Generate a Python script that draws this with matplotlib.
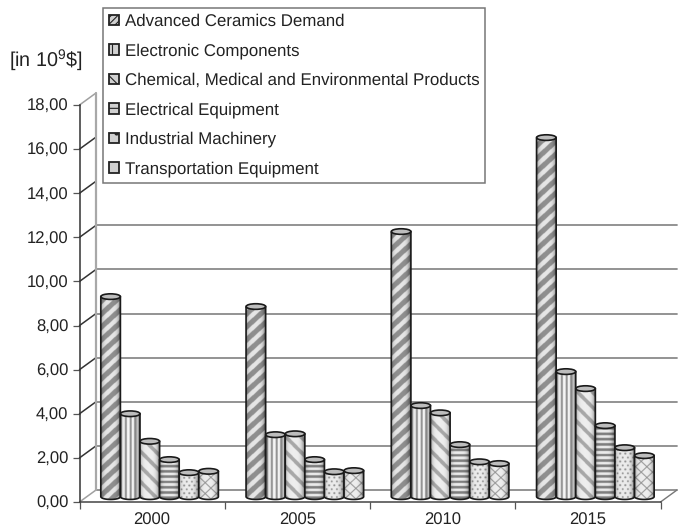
import numpy as np
import matplotlib
matplotlib.use("Agg")
import matplotlib.pyplot as plt
from matplotlib.patches import Patch, PathPatch, Ellipse
from matplotlib.path import Path

years = ["2000", "2005", "2010", "2015"]
series = [
    "Advanced Ceramics Demand",
    "Electronic Components",
    "Chemical, Medical and Environmental Products",
    "Electrical Equipment",
    "Industrial Machinery",
    "Transportation Equipment",
]
ceramics = [9.07, 8.62, 12.02, 16.28]
electronic = [3.76, 2.81, 4.13, 5.67]
chemical = [2.51, 2.85, 3.80, 4.90]
electrical = [1.68, 1.68, 2.36, 3.22]
machinery = [1.09, 1.13, 1.58, 2.22]
transport = [1.15, 1.18, 1.50, 1.86]
values = [ceramics, electronic, chemical, electrical, machinery, transport]
y_ticks = [0, 2, 4, 6, 8, 10, 12, 14, 16, 18]
y_labels = ["0,00", "2,00", "4,00", "6,00", "8,00", "10,00", "12,00", "14,00", "16,00", "18,00"]
grid_values = [0, 2, 4, 6, 8, 10, 12]
legend_hatches = ["/////", "||", "\\", "-", ".", "x"]

plt.rcParams["font.family"] = ["Liberation Sans", "DejaVu Sans"]
plt.rcParams["mathtext.default"] = "regular"
plt.rcParams["hatch.linewidth"] = 0.8
plt.rcParams["text.hinting"] = "none"
plt.rcParams["text.hinting_factor"] = 8

W, H = 685, 528
X0, X1, Y0, Y18 = 79.5, 660.5, 502.0, 105.0
fig = plt.figure(figsize=(W / 100, H / 100), dpi=100, facecolor="white")
ax = fig.add_axes([X0 / W, 1 - Y0 / H, (X1 - X0) / W, (Y0 - Y18) / H])
ax.set_xlim(0, 4)
ax.set_ylim(0, 18)

# pixel sizes expressed in axis units
ux = (X1 - X0) / 4
uy = (Y0 - Y18) / 18
depth_x = 16.5 / ux
depth_y = 12.0 / uy

for s in ("top", "right"):
    ax.spines[s].set_visible(False)
ax.spines["left"].set_color("#333333")
ax.spines["left"].set_linewidth(1.1)
ax.spines["bottom"].set_color("#444444")
ax.spines["bottom"].set_linewidth(1.1)
ax.set_yticks(y_ticks, y_labels, fontsize=12, color="#222222")
ax.set_xticks(range(5), [""] * 5)
ax.set_xticks([0.5, 1.5, 2.5, 3.5], years, minor=True, fontsize=12, color="#222222")
ax.tick_params(axis="both", which="major", length=5, width=0.9, color="#555555")
ax.tick_params(axis="y", pad=3)
ax.tick_params(axis="x", which="minor", length=0, pad=7.5)

# back wall, floor and depth lines
kw = dict(clip_on=False, zorder=1, solid_capstyle="round")
for v in grid_values:
    ax.plot([depth_x, 4 + depth_x], [v + depth_y] * 2, color="#8a8a8a", lw=1.3, **kw)
for v in y_ticks:
    col = "#a0a0a0" if v in (0, 18) else "#333333"
    ax.plot([0, depth_x], [v, v + depth_y], color=col, lw=1.1, **kw)
ax.plot([depth_x, depth_x], [depth_y, 18 + depth_y], color="#a8a8a8", lw=1.6, **kw)
ax.plot([4, 4 + depth_x], [0, depth_y], color="#777777", lw=1.0, **kw)


def texture(kind, xx, yy):
    """Grey level of one fill pattern at pixel offsets xx, yy."""
    if kind == 0:
        return np.where(((xx * 0.95 - yy) % 13) < 6.0, 0.90, 0.56)
    if kind == 1:
        return np.where((xx % 4.6) < 2.1, 0.58, 0.96)
    if kind == 2:
        return np.where(((xx + yy * 0.95) % 14.5) < 5.0, 0.66, 0.93)
    if kind == 3:
        return np.where((yy % 5.4) < 2.6, 0.50, 0.92)
    if kind == 4:
        row = np.floor(yy / 4.0)
        px = (xx + row * 2.5) % 5.0 - 2.5
        py = (yy % 4.0) - 2.0
        return np.where(px ** 2 + py ** 2 < 1.0, 0.58, 0.92)
    a = (xx + yy) % 11.0
    b = (xx - yy) % 11.0
    return np.where((a < 1.2) | (b < 1.2), 0.55, 0.93)


def cylinder(left_px, height, kind, z):
    """One shaded cylinder standing half way into the chart depth."""
    w_px = 19.6
    left = left_px / ux
    width = w_px / ux
    base = depth_y / 2 - 0.03
    top = base + height
    ry = 2.8 / uy
    theta = np.linspace(np.pi, 2 * np.pi, 40)
    arc_x = left + width / 2 + width / 2 * np.cos(theta)
    arc_y = base + ry * np.sin(theta)
    xs = np.r_[left, arc_x, left + width, left]
    ys = np.r_[top, arc_y, top, top]
    body = PathPatch(Path(np.c_[xs, ys]), facecolor="none", edgecolor="#1a1a1a",
                     lw=1.2, clip_on=False, zorder=z + 0.2, joinstyle="round")
    ax.add_patch(body)

    ny = max(int((height * uy + 4) * 3), 4)
    nx = int(w_px * 3)
    xx, yy = np.meshgrid((np.arange(nx) + 0.5) / 3,
                         (np.arange(ny)[::-1] + 0.5) / 3)
    t = (xx / w_px) * 2 - 1
    shade = 0.45 + 0.55 * np.clip(1 - (np.abs(t + 0.1) / 1.05) ** 4, 0, 1)
    img = texture(kind, xx, yy) * shade
    im = ax.imshow(img, cmap="gray", vmin=0, vmax=1, aspect="auto",
                   extent=(left, left + width, base - ry, top),
                   interpolation="bilinear", zorder=z)
    im.set_clip_path(body)

    cap = Ellipse((left + width / 2, top), width, 2 * ry, facecolor="#bdbdbd",
                  edgecolor="#1a1a1a", lw=1.2, clip_on=False, zorder=z + 0.3)
    ax.add_patch(cap)


GROUP_OFFSET = 21.3
STEP = 19.6
for g in range(len(years)):
    for k, vals in enumerate(values):
        cylinder(g * ux + GROUP_OFFSET + k * STEP, vals[g], k, 3 + k * 0.5 + g)

ax.set_xlim(0, 4)
ax.set_ylim(0, 18)

fig.text(9 / W, 1 - 60 / H, r"[in 10$^{9}$\$]", fontsize=14.2, color="#222222", va="center")

handles = [Patch(facecolor="#d0d0d0", edgecolor="#222222", hatch=h, lw=1.3) for h in legend_hatches]
leg = ax.legend(handles, series, loc="upper left",
                bbox_to_anchor=(103 / W, 1 - 7.5 / H), bbox_transform=fig.transFigure,
                fontsize=12.15, frameon=True, fancybox=False, framealpha=1,
                edgecolor="#777777", handlelength=0.6, handleheight=0.6,
                handletextpad=0.32, labelspacing=0.81, borderpad=0.36, borderaxespad=0,
                labelcolor="#222222")
leg.get_frame().set_linewidth(1.1)
leg.set_zorder(30)

fig.savefig("out.png", dpi=100, facecolor="white")
